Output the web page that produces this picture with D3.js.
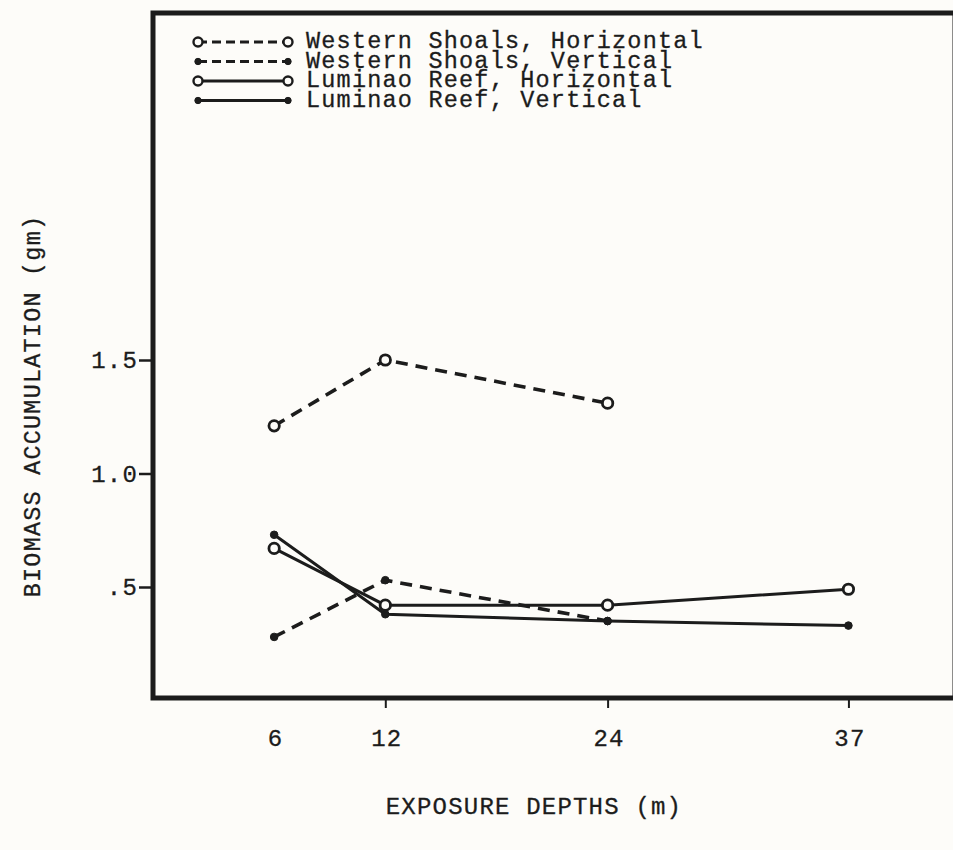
<!DOCTYPE html>
<html>
<head>
<meta charset="utf-8">
<script src="https://cdn.jsdelivr.net/npm/d3@7"></script>
<style>
  html, body { margin: 0; padding: 0; background: #fdfcf9; }
  svg { display: block; }
  text { font-family: "Liberation Mono", "Courier New", monospace; fill: #1c1c1c; stroke: #1c1c1c; stroke-width: 0.3px; letter-spacing: 1.2px; }
</style>
</head>
<body>
<svg id="chart" width="953" height="850"></svg>
<script>
// Exposure depths (m) and biomass accumulation (gm) per panel series
const depths = [6, 12, 24, 37];
const depthLabels = ["6", "12", "24", "37"];
const depthTicks = [12, 24, 37];

const wsHorizontal = [1.21, 1.50, 1.31, null];
const wsVertical   = [0.28, 0.53, 0.35, null];
const lrHorizontal = [0.67, 0.42, 0.42, 0.49];
const lrVertical   = [0.73, 0.38, 0.35, 0.33];

const yTickValues = [0.5, 1.0, 1.5];
const yTickLabels = [".5", "1.0", "1.5"];

const seriesNames = [
  "Western Shoals, Horizontal",
  "Western Shoals, Vertical",
  "Luminao Reef, Horizontal",
  "Luminao Reef, Vertical"
];

const ink = "#1c1c1c";
const paper = "#fdfcf9";
const frame = { left: 153, top: 13, right: 955, bottom: 698 };

const series = [
  { name: seriesNames[0], values: wsHorizontal, dashed: true,  open: true  },
  { name: seriesNames[1], values: wsVertical,   dashed: true,  open: false },
  { name: seriesNames[2], values: lrHorizontal, dashed: false, open: true  },
  { name: seriesNames[3], values: lrVertical,   dashed: false, open: false }
];

const svg = d3.select("#chart");

const x = d3.scaleLinear().domain([0, 40]).range([163, 904]);
const y = d3.scaleLinear().domain([0, 1.5]).range([700.5, 360]);

// plot frame (right side runs off the page edge)
svg.append("rect")
  .attr("x", frame.left).attr("y", frame.top)
  .attr("width", frame.right - frame.left)
  .attr("height", frame.bottom - frame.top)
  .attr("fill", "none").attr("stroke", ink).attr("stroke-width", 5);

// y axis ticks and labels
const yAxis = d3.axisLeft(y)
  .tickValues(yTickValues)
  .tickFormat((d, i) => yTickLabels[i])
  .tickSize(14).tickPadding(1);
const gy = svg.append("g").attr("transform", `translate(${frame.left},0)`).call(yAxis);
gy.select(".domain").remove();
gy.selectAll(".tick line").attr("stroke", ink).attr("stroke-width", 2.5);
gy.selectAll(".tick text").attr("font-size", 24).attr("font-family", null).attr("fill", ink);

// x axis ticks and labels
const xAxis = d3.axisBottom(x)
  .tickValues(depths)
  .tickFormat((d, i) => depthLabels[i])
  .tickSize(10).tickPadding(21);
const gx = svg.append("g").attr("transform", `translate(0,${frame.bottom})`).call(xAxis);
gx.select(".domain").remove();
gx.selectAll(".tick line")
  .attr("stroke", ink).attr("stroke-width", 2)
  .attr("display", d => depthTicks.includes(d) ? null : "none");
gx.selectAll(".tick text").attr("font-size", 24).attr("font-family", null).attr("fill", ink)
  .attr("dx", 1);

// axis titles
svg.append("text")
  .attr("x", 534).attr("y", 814)
  .attr("text-anchor", "middle").attr("font-size", 24)
  .text("EXPOSURE DEPTHS (m)");

svg.append("text")
  .attr("transform", "translate(40,406) rotate(-90)")
  .attr("text-anchor", "middle").attr("font-size", 23.5)
  .text("BIOMASS ACCUMULATION (gm)");

// series lines
const line = d3.line()
  .defined(d => d.v != null)
  .x(d => x(d.d))
  .y(d => y(d.v));

const g = svg.append("g");
series.forEach(s => {
  const pts = depths.map((d, i) => ({ d, v: s.values[i] }));
  g.append("path")
    .datum(pts)
    .attr("d", line)
    .attr("fill", "none")
    .attr("stroke", ink)
    .attr("stroke-width", s.dashed ? 3.6 : 3)
    .attr("stroke-dasharray", s.dashed ? "12,8" : null);
});

// markers
series.forEach(s => {
  const pts = depths.map((d, i) => ({ d, v: s.values[i] })).filter(p => p.v != null);
  g.selectAll(null).data(pts).enter().append("circle")
    .attr("cx", p => x(p.d))
    .attr("cy", p => y(p.v))
    .attr("r", s.open ? 5.2 : 3.8)
    .attr("fill", s.open ? paper : ink)
    .attr("stroke", ink)
    .attr("stroke-width", s.open ? 2.8 : 1);
});

// legend (typewriter-style tight line spacing)
const legendX0 = 198, legendX1 = 288, legendTextX = 306, legendY0 = 42, legendStep = 19.5;
const lg = svg.append("g");
series.forEach((s, i) => {
  const ly = legendY0 + i * legendStep;
  lg.append("line")
    .attr("x1", legendX0).attr("x2", legendX1)
    .attr("y1", ly).attr("y2", ly)
    .attr("stroke", ink).attr("stroke-width", 3)
    .attr("stroke-dasharray", s.dashed ? "9,5" : null);
  [legendX0, legendX1].forEach(cx => {
    lg.append("circle")
      .attr("cx", cx).attr("cy", ly)
      .attr("r", s.open ? 4.5 : 3.2)
      .attr("fill", s.open ? paper : ink)
      .attr("stroke", ink).attr("stroke-width", s.open ? 2.4 : 1);
  });
  lg.append("text")
    .attr("x", legendTextX).attr("y", ly + 6)
    .attr("font-size", 23.5)
    .text(s.name);
});
</script>
</body>
</html>
